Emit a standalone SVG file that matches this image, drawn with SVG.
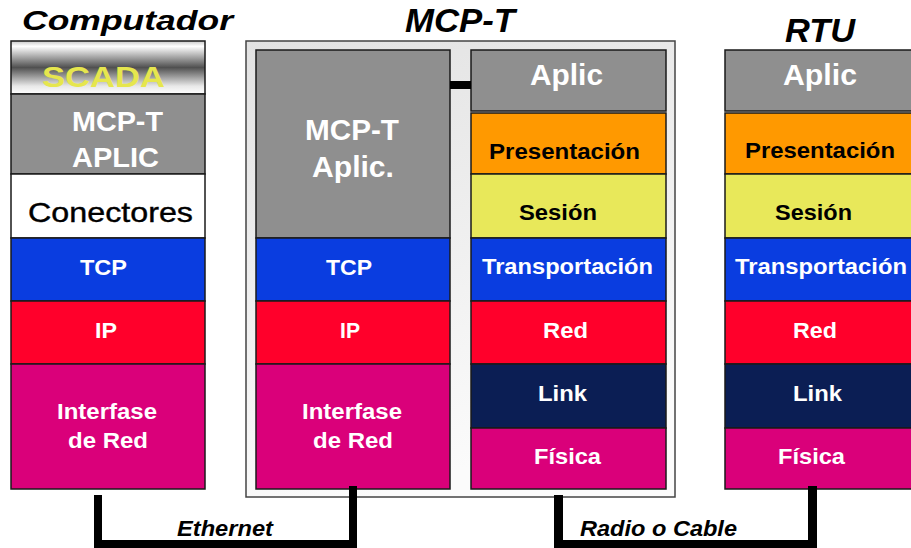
<svg xmlns="http://www.w3.org/2000/svg" width="911" height="548" viewBox="0 0 911 548">
  <defs>
    <linearGradient id="scadaShade" x1="0" y1="0" x2="0" y2="1">
      <stop offset="0" stop-color="#c8c8c8"/>
      <stop offset="0.1" stop-color="#ffffff"/>
      <stop offset="0.5" stop-color="#505050"/>
      <stop offset="0.85" stop-color="#e8e8e8"/>
      <stop offset="1" stop-color="#ffffff"/>
    </linearGradient>
    <linearGradient id="frameFill" x1="0" y1="0" x2="0.3" y2="1">
      <stop offset="0" stop-color="#e2e2e2"/>
      <stop offset="1" stop-color="#fbfbfb"/>
    </linearGradient>
    <style>
      .title { font-family: "Liberation Sans", Arial, sans-serif; font-weight: bold; font-style: italic; fill: #000; }
      .lbl { font-family: "Liberation Sans", Arial, sans-serif; font-weight: bold; text-anchor: middle; }
      .w { fill: #fff; }
      .k { fill: #000; }
      .big { font-size: 29px; }
      .mid { font-size: 22px; }
      .layer { stroke: #1a1a1a; stroke-width: 1.5; }
      .gray { fill: #8f8f8f; }
      .blue { fill: #0a3de0; }
      .red { fill: #ff002b; }
      .mag { fill: #da007a; }
      .navy { fill: #0b1e54; }
      .orange { fill: #ff9900; }
      .yellow { fill: #e8e85a; }
      .bar { fill: #000; }
    </style>
  </defs>

  <rect width="911" height="548" fill="#ffffff"/>

  <!-- column headings -->
  <text class="title" x="22" y="30" font-size="27" textLength="211" lengthAdjust="spacingAndGlyphs">Computador</text>
  <text class="title" x="405" y="32" font-size="33" textLength="110" lengthAdjust="spacingAndGlyphs">MCP-T</text>
  <text class="title" x="785" y="42" font-size="34" textLength="70" lengthAdjust="spacingAndGlyphs">RTU</text>

  <!-- Computador stack -->
  <g id="computador">
    <rect class="layer" x="11" y="41" width="194" height="53" fill="url(#scadaShade)" stroke="#333"/>
    <text class="lbl" x="103.5" y="87" font-size="30" fill="#e6e64e" textLength="123" lengthAdjust="spacingAndGlyphs">SCADA</text>
    <rect class="layer gray" x="11" y="94" width="194" height="80"/>
    <text class="lbl w" x="117.5" y="131" font-size="28" textLength="91" lengthAdjust="spacingAndGlyphs">MCP-T</text>
    <text class="lbl w" x="115.5" y="167" font-size="28" textLength="87" lengthAdjust="spacingAndGlyphs">APLIC</text>
    <rect class="layer" x="11" y="174" width="194" height="64" fill="#ffffff"/>
    <text x="110.5" y="222" font-family="Liberation Sans, Arial, sans-serif" font-size="28" text-anchor="middle" fill="#000" textLength="165" lengthAdjust="spacingAndGlyphs" stroke="#000" stroke-width="0.4">Conectores</text>
    <rect class="layer blue" x="11" y="238" width="194" height="63"/>
    <text class="lbl w mid" x="103.5" y="275" textLength="47" lengthAdjust="spacingAndGlyphs">TCP</text>
    <rect class="layer red" x="11" y="301" width="194" height="63"/>
    <text class="lbl w mid" x="106" y="338" textLength="22" lengthAdjust="spacingAndGlyphs">IP</text>
    <rect class="layer mag" x="11" y="364" width="194" height="125"/>
    <text class="lbl w mid" x="107" y="419" textLength="100" lengthAdjust="spacingAndGlyphs">Interfase</text>
    <text class="lbl w mid" x="108" y="448" textLength="80" lengthAdjust="spacingAndGlyphs">de Red</text>
  </g>

  <!-- MCP-T enclosure -->
  <g id="mcpt">
    <rect x="246" y="41" width="429" height="456" fill="url(#frameFill)" stroke="#444" stroke-width="1.5"/>

    <g id="mcpt-ip-stack">
      <rect class="layer gray" x="256" y="50" width="194" height="188"/>
      <text class="lbl w" x="352" y="140" font-size="29" textLength="94" lengthAdjust="spacingAndGlyphs">MCP-T</text>
      <text class="lbl w" x="353" y="177" font-size="29" textLength="82" lengthAdjust="spacingAndGlyphs">Aplic.</text>
      <rect class="layer blue" x="256" y="238" width="194" height="63"/>
      <text class="lbl w mid" x="349" y="275" textLength="46" lengthAdjust="spacingAndGlyphs">TCP</text>
      <rect class="layer red" x="256" y="301" width="194" height="63"/>
      <text class="lbl w mid" x="350" y="338" textLength="20" lengthAdjust="spacingAndGlyphs">IP</text>
      <rect class="layer mag" x="256" y="364" width="194" height="125"/>
      <text class="lbl w mid" x="352" y="419" textLength="100" lengthAdjust="spacingAndGlyphs">Interfase</text>
      <text class="lbl w mid" x="353" y="448" textLength="80" lengthAdjust="spacingAndGlyphs">de Red</text>
    </g>

    <g id="mcpt-osi-stack">
      <rect class="layer gray" x="471" y="50" width="195" height="61"/>
      <text class="lbl w" x="566.5" y="85" font-size="30" textLength="73" lengthAdjust="spacingAndGlyphs">Aplic</text>
      <rect class="layer orange" x="471" y="113" width="195" height="61"/>
      <text class="lbl k mid" x="564.5" y="159" textLength="151" lengthAdjust="spacingAndGlyphs">Presentación</text>
      <rect class="layer yellow" x="471" y="174" width="195" height="64"/>
      <text class="lbl k mid" x="558" y="220" textLength="78" lengthAdjust="spacingAndGlyphs">Sesión</text>
      <rect class="layer blue" x="471" y="238" width="195" height="63"/>
      <text class="lbl w mid" x="567.5" y="274" textLength="171" lengthAdjust="spacingAndGlyphs">Transportación</text>
      <rect class="layer red" x="471" y="301" width="195" height="63"/>
      <text class="lbl w mid" x="565.5" y="338" textLength="45" lengthAdjust="spacingAndGlyphs">Red</text>
      <rect class="layer navy" x="471" y="364" width="195" height="64"/>
      <text class="lbl w mid" x="562.5" y="401" textLength="49" lengthAdjust="spacingAndGlyphs">Link</text>
      <rect class="layer mag" x="471" y="428" width="195" height="61"/>
      <text class="lbl w mid" x="567.5" y="464" textLength="67" lengthAdjust="spacingAndGlyphs">Física</text>
    </g>
  </g>

  <!-- RTU stack -->
  <g id="rtu">
    <rect class="layer gray" x="725" y="50" width="195" height="61"/>
    <text class="lbl w" x="820" y="85" font-size="30" textLength="74" lengthAdjust="spacingAndGlyphs">Aplic</text>
    <rect class="layer orange" x="725" y="113" width="195" height="61"/>
    <text class="lbl k mid" x="820" y="158" textLength="150" lengthAdjust="spacingAndGlyphs">Presentación</text>
    <rect class="layer yellow" x="725" y="174" width="195" height="64"/>
    <text class="lbl k mid" x="813.5" y="220" textLength="77" lengthAdjust="spacingAndGlyphs">Sesión</text>
    <rect class="layer blue" x="725" y="238" width="195" height="63"/>
    <text class="lbl w mid" x="821" y="274" textLength="172" lengthAdjust="spacingAndGlyphs">Transportación</text>
    <rect class="layer red" x="725" y="301" width="195" height="63"/>
    <text class="lbl w mid" x="815" y="338" textLength="44" lengthAdjust="spacingAndGlyphs">Red</text>
    <rect class="layer navy" x="725" y="364" width="195" height="64"/>
    <text class="lbl w mid" x="817.5" y="401" textLength="49" lengthAdjust="spacingAndGlyphs">Link</text>
    <rect class="layer mag" x="725" y="428" width="195" height="61"/>
    <text class="lbl w mid" x="811.5" y="464" textLength="67" lengthAdjust="spacingAndGlyphs">Física</text>
  </g>

  <!-- links -->
  <g id="connectors">
    <!-- internal link between the two MCP-T application blocks -->
    <rect class="bar" x="450" y="81" width="21" height="8"/>
    <!-- Ethernet: Computador to MCP-T -->
    <rect class="bar" x="94" y="495" width="8" height="45"/>
    <rect class="bar" x="94" y="540" width="263" height="8"/>
    <rect class="bar" x="349" y="486" width="8" height="62"/>
    <!-- Radio o Cable: MCP-T to RTU -->
    <rect class="bar" x="554" y="495" width="9" height="45"/>
    <rect class="bar" x="554" y="540" width="263" height="8"/>
    <rect class="bar" x="808" y="486" width="9" height="62"/>
  </g>

  <text class="title" x="177" y="536" font-size="22" textLength="96" lengthAdjust="spacingAndGlyphs">Ethernet</text>
  <text class="title" x="580" y="536" font-size="22" textLength="157" lengthAdjust="spacingAndGlyphs">Radio o Cable</text>
</svg>
